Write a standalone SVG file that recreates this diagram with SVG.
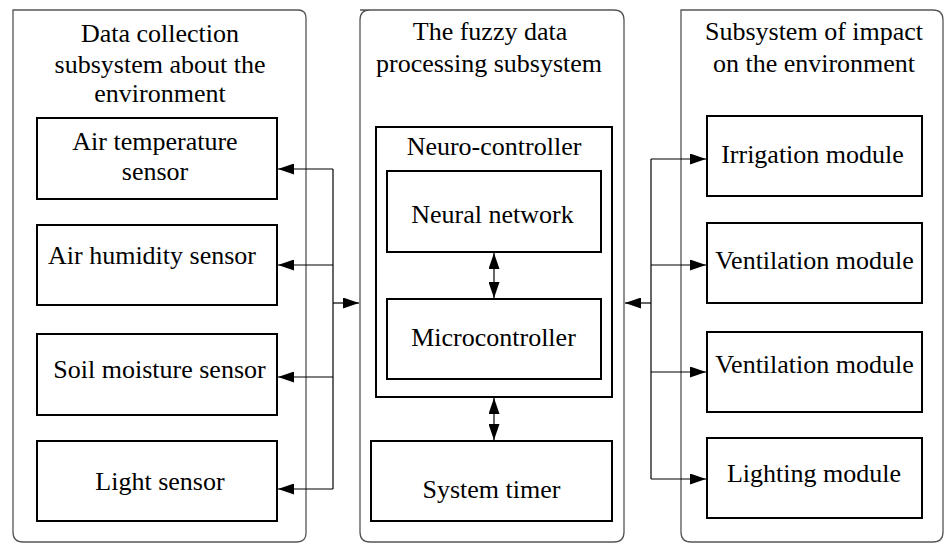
<svg xmlns="http://www.w3.org/2000/svg" width="944" height="544" viewBox="0 0 944 544">
<style>
.panel{fill:#fff;stroke:#555;stroke-width:1.3}
.box{fill:#fff;stroke:#000;stroke-width:2}
.t{font-family:"Liberation Serif","Times New Roman",serif;font-size:26px;fill:#000;text-anchor:middle}
.c{fill:none;stroke:#000;stroke-width:1.2}
</style>
<defs>
<marker id="ah" markerUnits="userSpaceOnUse" markerWidth="16" markerHeight="11" refX="16" refY="5.5" orient="auto-start-reverse" viewBox="0 0 16 11">
<path d="M0,0 L16,5.5 L0,11 z" fill="#000"/>
</marker>
</defs>
<rect width="944" height="544" fill="#fff"/>

<g id="panel-left">
<path class="panel" d="M13,10 H298 Q306,10 306,18 V533 Q306,542 297,542 H23 Q13,542 13,532 Z"/>
<text class="t" x="160" y="42">Data collection</text>
<text class="t" x="160" y="72.5">subsystem about the</text>
<text class="t" x="160" y="102">environment</text>
</g>
<g id="panel-middle">
<path class="panel" d="M360,10 H614 Q624,10 624,20 V532 Q624,542 614,542 H370 Q360,542 360,532 V20 Q360,10 370,10 Z"/>
<text class="t" x="490" y="40">The fuzzy data</text>
<text class="t" x="489" y="72">processing subsystem</text>
</g>
<g id="panel-right">
<path class="panel" d="M681,10 H933 Q943,10 943,20 V532 Q943,542 933,542 H691 Q681,542 681,532 Z"/>
<text class="t" x="814" y="40">Subsystem of impact</text>
<text class="t" x="814" y="72">on the environment</text>
</g>

<g id="air-temperature">
<rect class="box" x="37" y="118" width="240" height="81"/>
<text class="t" x="155" y="150">Air temperature</text>
<text class="t" x="155" y="180">sensor</text>
</g>
<g id="air-humidity">
<rect class="box" x="37" y="225" width="240" height="80"/>
<text class="t" x="152" y="264">Air humidity sensor</text>
</g>
<g id="soil-moisture">
<rect class="box" x="37" y="334" width="240" height="81"/>
<text class="t" x="159.5" y="378">Soil moisture sensor</text>
</g>
<g id="light-sensor">
<rect class="box" x="37" y="441" width="240" height="80"/>
<text class="t" x="160" y="490">Light sensor</text>
</g>

<g id="neuro-controller">
<rect class="box" x="376" y="127" width="236" height="270"/>
<text class="t" x="494" y="155">Neuro-controller</text>
</g>
<g id="neural-network">
<rect class="box" x="387" y="171" width="214" height="81"/>
<text class="t" x="492.5" y="223">Neural network</text>
</g>
<g id="microcontroller">
<rect class="box" x="387" y="299" width="214" height="80"/>
<text class="t" x="493.5" y="346">Microcontroller</text>
</g>
<g id="system-timer">
<rect class="box" x="371" y="441" width="241" height="80"/>
<text class="t" x="491.5" y="498">System timer</text>
</g>

<g id="irrigation">
<rect class="box" x="707" y="116" width="215" height="80"/>
<text class="t" x="812.5" y="163">Irrigation module</text>
</g>
<g id="ventilation-1">
<rect class="box" x="707" y="223" width="215" height="80"/>
<text class="t" x="814.5" y="269">Ventilation module</text>
</g>
<g id="ventilation-2">
<rect class="box" x="707" y="332" width="215" height="80"/>
<text class="t" x="814.5" y="373">Ventilation module</text>
</g>
<g id="lighting">
<rect class="box" x="707" y="438" width="215" height="80"/>
<text class="t" x="814" y="482">Lighting module</text>
</g>

<g id="connectors">
<path class="c" d="M333,169 V489"/>
<path class="c" d="M333,169 H278" marker-end="url(#ah)"/>
<path class="c" d="M333,265 H278" marker-end="url(#ah)"/>
<path class="c" d="M333,377 H278" marker-end="url(#ah)"/>
<path class="c" d="M333,489 H278" marker-end="url(#ah)"/>
<path class="c" d="M333,303 H359" marker-end="url(#ah)"/>
<path class="c" d="M651,159 V479"/>
<path class="c" d="M651,159 H706" marker-end="url(#ah)"/>
<path class="c" d="M651,265 H706" marker-end="url(#ah)"/>
<path class="c" d="M651,372 H706" marker-end="url(#ah)"/>
<path class="c" d="M651,479 H706" marker-end="url(#ah)"/>
<path class="c" d="M651,303 H625" marker-end="url(#ah)"/>
<path class="c" d="M494,253 V298" marker-start="url(#ah)" marker-end="url(#ah)"/>
<path class="c" d="M494,398 V440" marker-start="url(#ah)" marker-end="url(#ah)"/>
</g>
</svg>
